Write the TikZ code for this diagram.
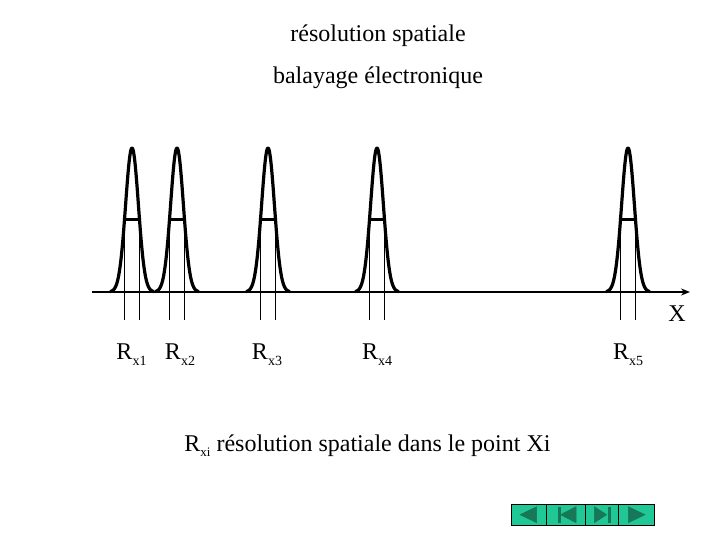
\documentclass[tikz,border=0pt]{standalone}
\usepackage{fontspec}
\setmainfont{Liberation Serif}
\usetikzlibrary{arrows.meta}
\definecolor{btnfill}{RGB}{32,200,150}
\definecolor{btntri}{RGB}{22,120,86}
\newcommand\Rsubx[1]{R\raisebox{-6pt}{\fontsize{14}{14}\selectfont x#1}}
\tikzset{
  txt/.style={inner sep=0pt, anchor=base, font=\fontsize{24}{28}\selectfont},
  peakcurve/.style={line width=3.2pt, line join=round},
  halfbar/.style={line width=3pt},
  fwline/.style={line width=0.9pt},
  axisline/.style={line width=2pt, -{Stealth[length=9pt,width=7pt]}},
  btn/.style={draw=black, line width=0.8pt, fill=btnfill},
  tri/.style={fill=btntri, draw=btntri, line width=0.5pt}
}
\begin{document}
\begin{tikzpicture}[x=1pt,y=-1pt]
\useasboundingbox (0,0) rectangle (720,540);
% titles
\node[txt] (t1) at (378,42) {résolution spatiale};
\node[txt] (t2) at (378,84) {balayage électronique};
% axis
\coordinate (a0) at (92,292);
\coordinate (a1) at (690,292);
\draw[axisline] (a0) -- (a1);
\node[txt] (X) at (677,321) {X};
% peaks
\foreach \c in {132,177,268,377,628}{
  \draw[fwline] (\c-7.7,220) -- (\c-7.7,320);
  \draw[fwline] (\c+7.7,220) -- (\c+7.7,320);
  \draw[halfbar] (\c-7.7,220) -- (\c+7.7,220);
  \draw[peakcurve] plot[domain=-22:22, samples=80, smooth] ({\c+\x}, {292-144*exp(-(\x*\x)/81.9)});
}
% labels
\node[txt] (r1) at (131.5,359) {\Rsubx{1}};
\node[txt] (r2) at (180,359) {\Rsubx{2}};
\node[txt] (r3) at (267,359) {\Rsubx{3}};
\node[txt] (r4) at (377,359) {\Rsubx{4}};
\node[txt] (r5) at (628,359) {\Rsubx{5}};
\node[txt] (cap) at (367.5,451) {R\raisebox{-5pt}{\fontsize{13}{13}\selectfont xi} résolution spatiale dans le point Xi};
% buttons
\draw[btn] (511,504) rectangle (546,525.5);
\draw[btn] (546,504) rectangle (585,525.5);
\draw[btn] (585,504) rectangle (618.3,525.5);
\draw[btn] (618.3,504) rectangle (654,525.5);
\draw[tri] (520,514.7) -- (536.7,506.7) -- (536.7,522.7) -- cycle;
\draw[tri] (557.8,507) rectangle (560.3,522.5);
\draw[tri] (560.5,514.7) -- (576,506.7) -- (576,522.7) -- cycle;
\draw[tri] (594.3,506.7) -- (606.7,514.7) -- (594.3,522.7) -- cycle;
\draw[tri] (607.8,507) rectangle (610.3,522.5);
\draw[tri] (628.3,506.7) -- (645,514.7) -- (628.3,522.7) -- cycle;
\end{tikzpicture}
\end{document}
